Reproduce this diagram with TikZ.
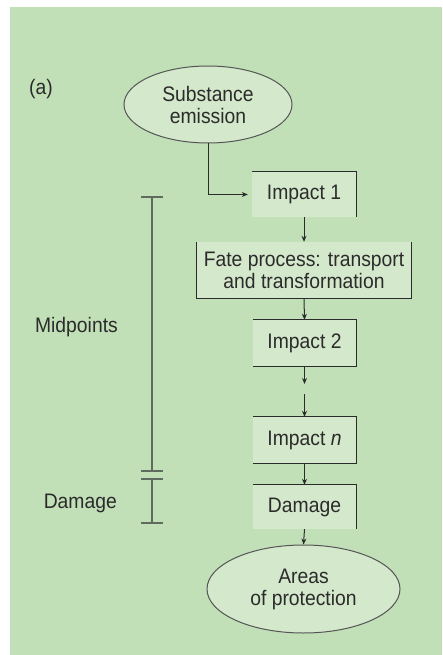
\documentclass[tikz,border=0pt]{standalone}
\usepackage{fontspec}
\setmainfont{Liberation Sans}[FakeStretch=0.92]
\usetikzlibrary{shapes.geometric,arrows.meta}
\definecolor{bg}{HTML}{C2E0B8}
\definecolor{boxfill}{HTML}{D4E8CB}
\definecolor{ink}{HTML}{2B2B2B}
\definecolor{brk}{HTML}{5E6B5E}
\tikzset{
  txt/.style={text=ink, font=\fontsize{21}{22}\selectfont, align=center, inner sep=0pt},
  boxnode/.style={txt, rectangle, fill=boxfill},
  ovalnode/.style={txt, ellipse, fill=boxfill, draw=ink!80, line width=1pt},
  border/.style={draw=ink, line width=1.2pt},
  arr/.style={draw=ink, line width=1pt, -{Stealth[length=6pt,width=5pt]}},
  bracket/.style={draw=brk, line width=1.6pt},
  lbl/.style={text=ink, font=\fontsize{21}{22}\selectfont, inner sep=0pt}
}
\begin{document}
\begin{tikzpicture}[x=1pt,y=-1pt]
\useasboundingbox (0,0) rectangle (442,655);
\fill[bg] (10,7) rectangle (442,655);

% label (a)
\node[lbl, anchor=base west] (lbla) at (29,95) {(a)};

% nodes
\node[ovalnode, minimum width=168pt, minimum height=77pt] (sub) at (208,104.5) {Substance\\emission};
\node[boxnode, minimum width=104pt, minimum height=45pt] (imp1) at (304,194.5) {Impact 1};
\node[boxnode, minimum width=214pt, minimum height=56pt] (fate) at (304,270) {Fate process: transport\\and transformation};
\node[boxnode, minimum width=103pt, minimum height=46pt] (imp2) at (304.5,343) {Impact 2};
\node[boxnode, minimum width=103pt, minimum height=46pt] (impn) at (304.5,440) {Impact \textit{n}};
\node[boxnode, minimum width=103pt, minimum height=44pt] (dam) at (304.5,507) {Damage};
\node[ovalnode, minimum width=193pt, minimum height=88pt] (aop) at (303.5,589) {Areas\\of protection};

% partial borders
\draw[border] (imp1.north west) -- (imp1.north east) -- (imp1.south east);
\draw[border] (fate.north west) -- (fate.south west) -- (fate.south east) -- (fate.north east);
\draw[border] (imp2.north west) -- (imp2.north east) -- (imp2.south east) -- (imp2.south west);
\draw[border] (impn.north west) -- (impn.north east) -- (impn.south east) -- (impn.south west);
\draw[border] (dam.north west) -- (dam.north east) -- (dam.south east);

% connectors
\draw[arr, shorten >=4pt] (sub.south) |- (imp1.west);
\draw[arr] (imp1.south) -- (fate.north);
\draw[arr] (fate.south) -- (imp2.north);
\coordinate (gapa) at (304.5,384);
\coordinate (gapb) at (304.5,394);
\draw[arr] (imp2.south) -- (gapa);
\draw[arr] (gapb) -- (impn.north);
\draw[arr] (impn.south) -- (dam.north);
\draw[arr] (dam.south) -- (aop.north);

% bracket
\coordinate (bt) at (152,197);
\coordinate (bm1) at (152,471);
\coordinate (bm2) at (152,479);
\coordinate (bb) at (152,523);
\draw[bracket] (bt) -- (bm1);
\draw[bracket] (bm2) -- (bb);
\draw[bracket] ([xshift=-11pt]bt) -- ([xshift=11pt]bt);
\draw[bracket] ([xshift=-11pt]bm1) -- ([xshift=11pt]bm1);
\draw[bracket] ([xshift=-11pt]bm2) -- ([xshift=11pt]bm2);
\draw[bracket] ([xshift=-11pt]bb) -- ([xshift=11pt]bb);

\node[lbl, anchor=base east] (mid) at (118,332) {Midpoints};
\node[lbl, anchor=base east] (damlbl) at (117,508) {Damage};
\end{tikzpicture}
\end{document}
